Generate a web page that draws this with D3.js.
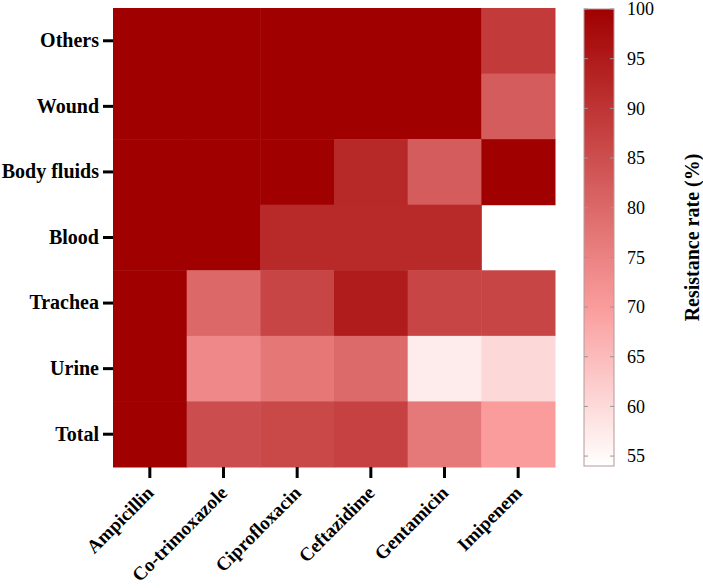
<!DOCTYPE html>
<html>
<head>
<meta charset="utf-8">
<script src="https://cdn.jsdelivr.net/npm/d3@7"></script>
<style>
  body { margin: 0; background: #fff; }
  text { font-family: "Liberation Serif", "Times New Roman", serif; }
</style>
</head>
<body>
<div id="chart"></div>
<script>
// antibiotics (columns) and specimen types (rows, top to bottom)
const drugs = ["Ampicillin", "Co-trimoxazole", "Ciprofloxacin", "Ceftazidime", "Gentamicin", "Imipenem"];
const specimens = ["Others", "Wound", "Body fluids", "Blood", "Trachea", "Urine", "Total"];

// resistance rate (%) per specimen, in drug order; null = no data
const others     = [100, 100, 100, 100, 100, 88.8];
const wound      = [100, 100, 100, 100, 100, 82.3];
const bodyFluids = [100, 100, 100, 92.3, 82.3, 100];
const blood      = [100, 100, 92, 92, 92, null];
const trachea    = [100, 80, 86.7, 94.7, 86.7, 86.7];
const urine      = [100, 73.8, 77.1, 79.6, 57.2, 60.3];
const total      = [100, 85.2, 86.2, 87.3, 76.9, 70];
const rows = [others, wound, bodyFluids, blood, trachea, urine, total];

const colorTicks = [55, 60, 65, 70, 75, 80, 85, 90, 95, 100];
const colorMin = 54, colorMax = 100;

const width = 703, height = 588;
const margin = { top: 8, right: 148, bottom: 121, left: 113 };

const svg = d3.select("#chart").append("svg")
    .attr("width", width)
    .attr("height", height);

const x = d3.scaleBand().domain(drugs).range([margin.left, width - margin.right]);
const y = d3.scaleBand().domain(specimens).range([margin.top, height - margin.bottom]);

const color = d3.scaleLinear()
    .domain([colorMin, 70, colorMax])
    .range(["#ffffff", "#fa9c9c", "#a00000"])
    .clamp(true);

// flatten into cells
const cells = [];
rows.forEach((vals, i) => {
    vals.forEach((v, j) => {
        if (v !== null) cells.push({ specimen: specimens[i], drug: drugs[j], value: v });
    });
});

svg.append("g").selectAll("rect")
    .data(cells)
    .join("rect")
    .attr("x", d => x(d.drug))
    .attr("y", d => y(d.specimen))
    .attr("width", x.bandwidth() + 0.5)
    .attr("height", y.bandwidth() + 0.5)
    .attr("fill", d => color(d.value));

// axes
const yAxis = svg.append("g")
    .attr("transform", `translate(${margin.left},0)`)
    .call(d3.axisLeft(y).tickSize(10).tickPadding(4));
yAxis.select(".domain").remove();
yAxis.selectAll(".tick line").attr("stroke", "#000").attr("stroke-width", 3);
yAxis.selectAll(".tick text")
    .attr("font-size", 20)
    .attr("font-weight", "bold")
    .attr("fill", "#000");

const xAxis = svg.append("g")
    .attr("transform", `translate(0,${height - margin.bottom})`)
    .call(d3.axisBottom(x).tickSize(11).tickPadding(4));
xAxis.select(".domain").remove();
xAxis.selectAll(".tick line").attr("stroke", "#000").attr("stroke-width", 3);
xAxis.selectAll(".tick text")
    .attr("font-size", 19)
    .attr("font-weight", "bold")
    .attr("fill", "#000")
    .attr("text-anchor", "end")
    .attr("y", 0)
    .attr("dy", 0)
    .attr("transform", "translate(5,27) rotate(-45)");

// colour bar
const cbX = 584, cbW = 30;
const cy = d3.scaleLinear().domain([colorMin, colorMax]).range([466, 9]);

const defs = svg.append("defs");
const grad = defs.append("linearGradient")
    .attr("id", "cbGrad")
    .attr("x1", 0).attr("y1", 1).attr("x2", 0).attr("y2", 0);
d3.range(0, 1.0001, 0.05).forEach(t => {
    const v = colorMin + t * (colorMax - colorMin);
    grad.append("stop").attr("offset", t).attr("stop-color", color(v));
});

svg.append("rect")
    .attr("x", cbX)
    .attr("y", cy(colorMax))
    .attr("width", cbW)
    .attr("height", cy(colorMin) - cy(colorMax))
    .attr("fill", "url(#cbGrad)")
    .attr("stroke", "#b59999")
    .attr("stroke-width", 1);

const cb = svg.append("g");
const cbTick = cb.selectAll("g").data(colorTicks).join("g")
    .attr("transform", d => `translate(0,${cy(d)})`);
cbTick.append("line")
    .attr("x1", cbX).attr("x2", cbX + 4)
    .attr("stroke", "#999").attr("stroke-width", 1);
cbTick.append("line")
    .attr("x1", cbX + cbW - 4).attr("x2", cbX + cbW)
    .attr("stroke", "#999").attr("stroke-width", 1);
cbTick.append("text")
    .attr("x", 627)
    .attr("dy", "0.35em")
    .attr("font-size", 18)
    .attr("fill", "#000")
    .text(d => d);

svg.append("text")
    .attr("transform", `translate(699,${(cy(colorMin) + cy(colorMax)) / 2}) rotate(-90)`)
    .attr("text-anchor", "middle")
    .attr("font-size", 20)
    .attr("font-weight", "bold")
    .attr("fill", "#000")
    .text("Resistance rate (%)");
</script>
</body>
</html>
